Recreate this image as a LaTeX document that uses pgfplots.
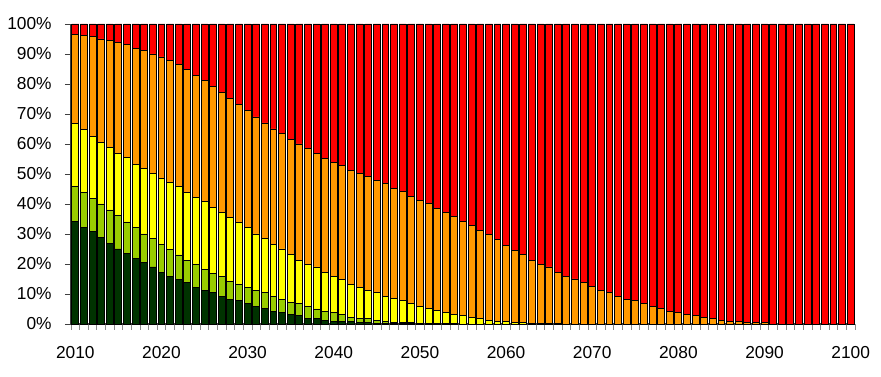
\documentclass[border=0pt]{standalone}
\usepackage{pgfplots}
\usepackage{pgfplotstable}
\pgfplotsset{compat=1.18}
\usepackage{fontspec}
\setmainfont{Liberation Sans}
\definecolor{cdg}{HTML}{003300}
\definecolor{clg}{HTML}{99CC00}
\definecolor{cye}{HTML}{FFFF00}
\definecolor{cor}{HTML}{FF9900}
\definecolor{cre}{HTML}{FF0000}
\pgfplotstableread{
i dg lg ye or re
0 34.1 11.7 21.1 29.7 3.4
1 32.2 11.6 21.1 31.2 3.9
2 30.7 11.1 20.6 33.3 4.3
3 28.7 11.3 20.6 34.4 5.0
4 26.7 11.3 20.9 35.7 5.4
5 25.0 11.1 20.8 36.8 6.3
6 23.6 10.4 21.4 37.7 6.9
7 21.9 10.2 21.2 38.6 8.1
8 20.6 9.4 21.9 39.2 8.9
9 19.0 9.4 21.8 39.8 10.0
10 17.2 9.4 22.0 40.4 11.0
11 15.9 9.0 22.3 40.5 12.3
12 14.9 8.1 22.8 40.8 13.4
13 13.9 7.3 22.7 41.0 15.1
14 12.3 7.5 22.4 40.7 17.1
15 11.2 7.1 22.4 40.4 18.9
16 10.4 6.5 21.8 40.4 20.9
17 9.3 6.5 21.3 40.0 22.9
18 8.2 6.1 21.3 39.5 24.9
19 7.8 5.5 20.4 39.4 26.9
20 6.9 5.4 19.8 39.0 28.9
21 5.8 5.4 18.8 39.0 31.0
22 5.1 5.3 18.2 38.4 33.0
23 4.1 5.1 17.4 38.4 35.0
24 3.7 4.5 16.8 38.4 36.6
25 3.2 3.9 16.1 38.4 38.4
26 2.8 3.9 14.5 38.8 40.0
27 1.8 3.9 14.2 38.7 41.4
28 1.8 3.2 14.0 37.9 43.1
29 1.3 3.0 13.0 38.0 44.7
30 0.9 2.9 12.0 38.1 46.1
31 0.9 2.4 11.6 37.9 47.2
32 0.7 1.5 11.0 38.1 48.7
33 0.5 1.3 10.4 38.0 49.8
34 0.4 1.4 9.5 38.0 50.7
35 0.3 1.0 9.1 37.4 52.2
36 0.2 0.7 8.4 37.4 53.3
37 0.2 0.4 7.8 36.8 54.8
38 0.1 0.5 7.2 36.4 55.8
39 0.1 0.3 6.5 35.7 57.4
40 0 0.3 5.5 35.4 58.8
41 0 0.3 4.9 34.9 59.9
42 0 0.2 4.2 34.2 61.4
43 0 0.1 3.7 33.3 62.9
44 0 0.1 3.0 32.6 64.3
45 0 0 2.8 31.3 65.9
46 0 0 2.2 30.5 67.3
47 0 0 1.8 29.4 68.8
48 0 0 1.2 28.6 70.2
49 0 0 0.9 27.2 71.9
50 0 0 0.8 25.3 73.9
51 0 0 0.4 24.2 75.4
52 0 0 0.4 22.7 76.9
53 0 0 0.3 21.0 78.7
54 0 0 0.2 19.7 80.1
55 0 0 0.1 18.9 81.0
56 0 0 0.1 17.2 82.7
57 0 0 0 15.9 84.1
58 0 0 0 15.0 85.0
59 0 0 0 13.8 86.2
60 0 0 0 12.4 87.6
61 0 0 0 11.3 88.7
62 0 0 0 10.4 89.6
63 0 0 0 9.3 90.7
64 0 0 0 8.3 91.7
65 0 0 0 7.8 92.2
66 0 0 0 6.9 93.1
67 0 0 0 5.8 94.2
68 0 0 0 5.2 94.8
69 0 0 0 4.2 95.8
70 0 0 0 3.8 96.2
71 0 0 0 3.2 96.8
72 0 0 0 2.8 97.2
73 0 0 0 2.2 97.8
74 0 0 0 1.7 98.3
75 0 0 0 1.3 98.7
76 0 0 0 0.8 99.2
77 0 0 0 0.7 99.3
78 0 0 0 0.5 99.5
79 0 0 0 0.5 99.5
80 0 0 0 0.4 99.6
81 0 0 0 0 100
82 0 0 0 0 100
83 0 0 0 0 100
84 0 0 0 0 100
85 0 0 0 0 100
86 0 0 0 0 100
87 0 0 0 0 100
88 0 0 0 0 100
89 0 0 0 0 100
90 0 0 0 0 100
}\datatable
\begin{document}
\begin{tikzpicture}
\path[use as bounding box] (-53.25pt,-39.75pt) rectangle (607.5pt,243pt);
\begin{axis}[
  at={(0,0)}, anchor=south west,
  scale only axis,
  width=588pt, height=225pt,
  xmin=-0.5, xmax=90.5,
  ymin=0, ymax=100,
  ybar stacked,
  bar width=0.8,
  axis lines*=left,
  axis line style={black!75, line width=0.8pt},
  xtick={0,10,...,90},
  xticklabels={2010,2020,2030,2040,2050,2060,2070,2080,2090,2100},
  major x tick style={draw=none},
  minor xtick={-0.5,0.5,...,90.5},
  minor x tick style={black!45, line width=0.6pt},
  minor tick length=4.5pt,
  ytick={0,10,...,100},
  yticklabel={\pgfmathprintnumber{\tick}\%},
  y tick style={black!75, line width=0.6pt},
  major tick length=4.5pt,
  tick align=outside,
  /pgf/number format/assume math mode=true,
  ticklabel style={font=\fontsize{13}{15}\selectfont},
  xticklabel style={yshift=-8.5pt},
  yticklabel style={xshift=-6.5pt},
  every axis plot/.append style={draw=black, line width=0.7pt},
  clip=false,
]
\addplot[fill=cdg] table[x=i, y=dg] {\datatable};
\addplot[fill=clg] table[x=i, y=lg] {\datatable};
\addplot[fill=cye] table[x=i, y=ye] {\datatable};
\addplot[fill=cor] table[x=i, y=or] {\datatable};
\addplot[fill=cre] table[x=i, y=re] {\datatable};
\end{axis}
\end{tikzpicture}
\end{document}
